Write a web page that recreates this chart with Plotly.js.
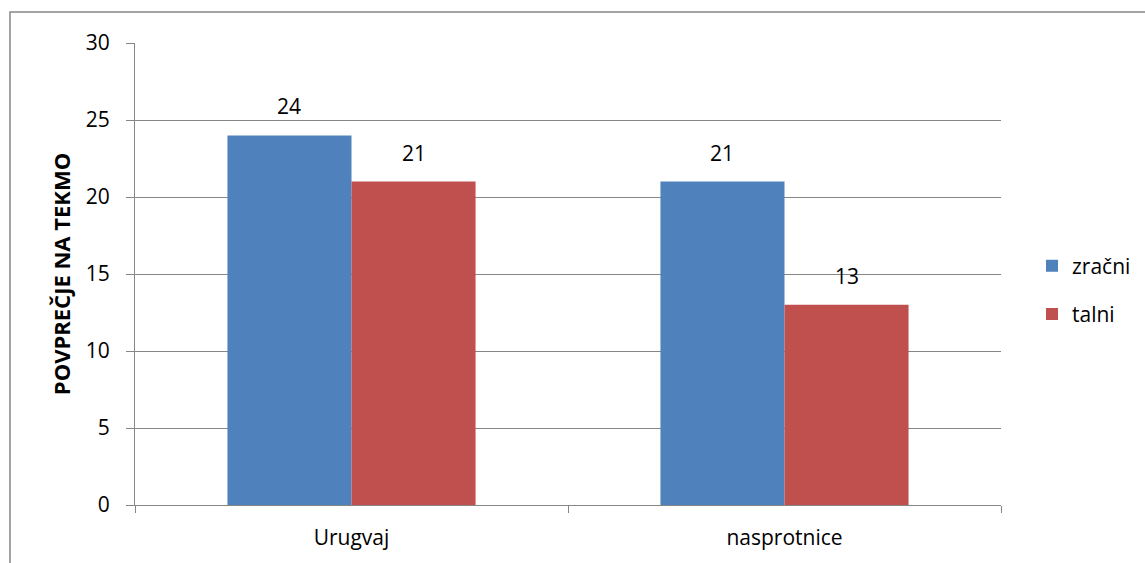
<!DOCTYPE html>
<html><head><meta charset="utf-8">
<script src="https://cdn.plot.ly/plotly-3.0.1.min.js"></script>
<style>html,body{margin:0;padding:0;background:#fff}#c{width:1145px;height:563px}</style>
</head><body><div id="c"></div>
<script>
var categories = ["Urugvaj", "nasprotnice"];
var zracni = [24, 21];
var talni = [21, 13];
var seriesNames = ["zračni", "talni"];
var yTitle = "POVPREČJE NA TEKMO";

var W = 1145, H = 563, L = 135, R = 144, T = 43, B = 58;
var pw = W - L - R, ph = H - T - B;
var BARGAP = 0.427;
function px(x){return (x - L)/pw;}
function py(y){return (H - B - y)/ph;}

var FAM = "Open Sans, sans-serif";
var font = {family: FAM, size: 21, color: "#000"};
var series = [zracni, talni];
var colors = ["#4F81BD", "#C0504D"];
var traces = series.map(function(vals, k){
  return {type:"bar", name: seriesNames[k], x: categories, y: vals,
          marker:{color: colors[k]}, legendgroup: "g"+k, hoverinfo:"none"};
});
// data labels above bars, placed via the data scales
var barPx = pw / categories.length * (1 - BARGAP) / series.length;
var annotations = [];
series.forEach(function(vals, k){
  vals.forEach(function(v, i){
    annotations.push({x: categories[i], y: v, xref:"x", yref:"y", text: String(v),
      showarrow:false, xshift: (k - (series.length-1)/2) * barPx, yanchor:"bottom", yshift: 13,
      font: font});
  });
});
var layout = {
  width: W, height: H,
  margin: {l: L, r: R, t: T, b: B, pad: 0, autoexpand: false},
  paper_bgcolor: "#fff", plot_bgcolor: "#fff",
  font: font,
  barmode: "group", bargap: BARGAP, bargroupgap: 0,
  showlegend: true,
  legend: {xref: "container", yref: "container", x: 1032/W, xanchor: "left", y: 1 - 290/H, yanchor: "middle",
           traceorder: "grouped", tracegroupgap: 18, font: font,
           itemwidth: 30, bgcolor: "rgba(0,0,0,0)"},
  xaxis: {type: "category", showline: true, linecolor: "#868686", linewidth: 1,
          ticks: "outside", tickson: "boundaries", ticklen: 7, tickcolor: "#868686",
          showgrid: false, tickfont: font, zeroline: false, ticklabelstandoff: 14},
  yaxis: {range: [0, 30], dtick: 5, showline: true, linecolor: "#868686", linewidth: 1,
          ticks: "outside", ticklen: 8, tickcolor: "#868686",
          showgrid: true, gridcolor: "#868686", gridwidth: 1, zeroline: false,
          tickfont: font, ticklabelstandoff: 12,
          title: {text: yTitle, font: {family: FAM, size: 22, color: "#000", weight: "bold"}, standoff: 9}},
  annotations: annotations,
  shapes: [
    {type:"rect", xref:"paper", yref:"paper", x0: px(10), x1: px(1160), y0: py(580), y1: py(12),
     line:{color:"#868686", width:1.5}, fillcolor:"rgba(0,0,0,0)", layer:"below"}
  ]
};
Plotly.newPlot("c", traces, layout, {displayModeBar:false, staticPlot:true});
</script></body></html>
